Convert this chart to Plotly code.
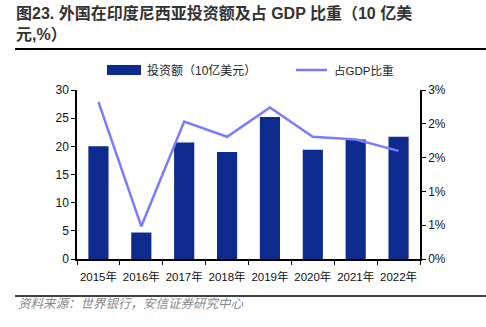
import plotly.graph_objects as go

years = ["2015年", "2016年", "2017年", "2018年", "2019年", "2020年", "2021年", "2022年"]
invest = [20.0, 4.7, 20.7, 19.0, 25.2, 19.4, 21.2, 21.7]
gdp_share = [2.79, 0.58, 2.44, 2.17, 2.69, 2.17, 2.12, 1.92]
right_ticks = [0, 0.6, 1.2, 1.8, 2.4, 3.0]
right_labels = ["0%", "1%", "1%", "2%", "2%", "3%"]

BAR = "#0D2A8F"
LINE = "#7B7BFF"
FONT = "Liberation Sans, Noto Sans CJK SC, Arial, sans-serif"

L, R, T, B = 77, 66, 90, 68
W, H = 486, 327
pw, ph = W - L - R, H - T - B

def px(x):
    return (x - L) / pw

def py(y):
    return (H - B - y) / ph

fig = go.Figure()
fig.add_trace(go.Bar(x=years, y=invest, marker=dict(color=BAR, line=dict(width=0)),
                     width=0.47, name="投资额（10亿美元）", showlegend=False))
fig.add_trace(go.Scatter(x=years, y=gdp_share, yaxis="y2", mode="lines",
                         line=dict(color=LINE, width=2.5), name="占GDP比重", showlegend=False))

shapes = [
    dict(type="line", xref="paper", yref="paper", x0=px(15), x1=px(486), y0=py(49), y1=py(49),
         line=dict(color="black", width=2)),
    dict(type="line", xref="paper", yref="paper", x0=px(15), x1=px(486), y0=py(296), y1=py(296),
         line=dict(color="black", width=1.5)),
    dict(type="rect", xref="paper", yref="paper", x0=px(107), x1=px(141), y0=py(75), y1=py(65),
         fillcolor=BAR, line=dict(width=0)),
    dict(type="line", xref="paper", yref="paper", x0=px(296), x1=px(327), y0=py(70), y1=py(70),
         line=dict(color=LINE, width=2.5)),
]
annotations = [
    dict(text="<b>图23. 外国在印度尼西亚投资额及占 GDP 比重（10 亿美</b><br><b>元,%）</b>", xref="paper", yref="paper",
         x=px(14), y=py(2), xanchor="left", yanchor="top", align="left", showarrow=False,
         font=dict(family=FONT, size=16, color="#333"), ),
    dict(text="投资额（10亿美元）", xref="paper", yref="paper", x=px(145), y=py(70),
         xanchor="left", yanchor="middle", showarrow=False, font=dict(family=FONT, size=12, color="#222")),
    dict(text="占GDP比重", xref="paper", yref="paper", x=px(332), y=py(70),
         xanchor="left", yanchor="middle", showarrow=False, font=dict(family=FONT, size=11.5, color="#222")),
    dict(text="<i>资料来源：世界银行，安信证券研究中心</i>", xref="paper", yref="paper", x=px(16), y=py(304),
         xanchor="left", yanchor="middle", showarrow=False, font=dict(family=FONT, size=12.5, color="#888")),
]

fig.update_layout(
    width=W, height=H,
    margin=dict(l=L, r=R, t=T, b=B, pad=0),
    paper_bgcolor="white", plot_bgcolor="white",
    font=dict(family=FONT, size=12, color="#111"),
    shapes=shapes, annotations=annotations,
    xaxis=dict(type="category", showline=True, linecolor="black", linewidth=1.5,
               ticks="outside", tickson="boundaries", ticklen=4, tickcolor="black",
               showgrid=False, tickfont=dict(size=11.5), tickangle=0, range=[-0.5, 7.5],
               ticklabelstandoff=6),
    yaxis=dict(range=[0, 30], dtick=5, showline=True, linecolor="black", linewidth=1.5,
               ticks="outside", ticklen=4, tickcolor="black", showgrid=False, zeroline=False,
               tickfont=dict(size=12)),
    yaxis2=dict(range=[0, 3], overlaying="y", side="right", tickvals=right_ticks, ticktext=right_labels,
                showline=True, linecolor="black", linewidth=1.5, ticks="outside", ticklen=4,
                tickcolor="black", showgrid=False, zeroline=False, tickfont=dict(size=12)),
)
fig.write_html("out.html")
